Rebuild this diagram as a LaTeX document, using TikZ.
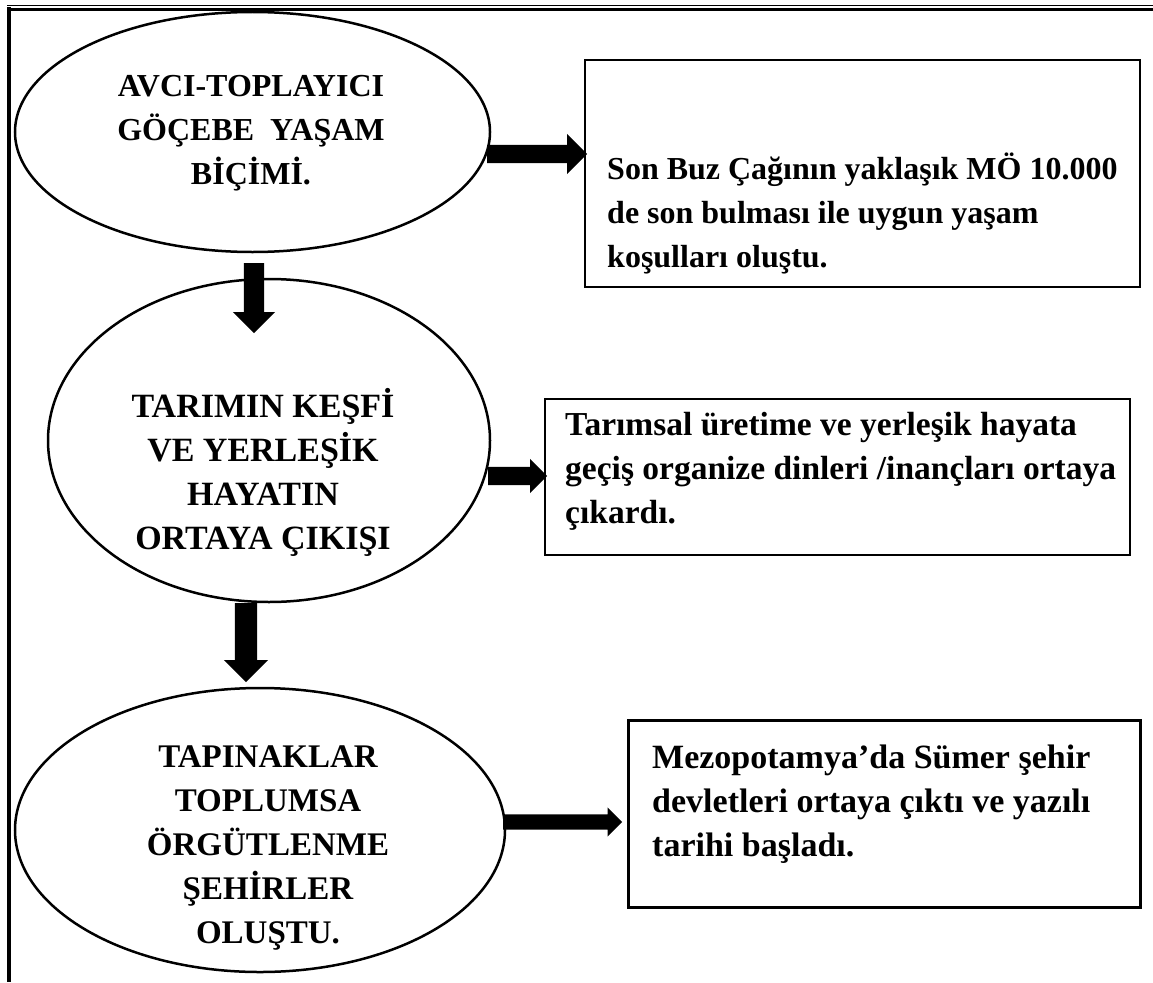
\documentclass[tikz,border=0pt]{standalone}
\usepackage{fontspec}
\setmainfont{Liberation Serif}
\usetikzlibrary{shapes.geometric,shapes.arrows}
\begin{document}
\begin{tikzpicture}[x=1pt,y=-1pt,
  oval/.style={ellipse,draw,line width=2.5pt,inner sep=0pt},
  box/.style={rectangle,draw,line width=2pt,inner sep=0pt},
  lbl/.style={font=\fontsize{#1}{44}\selectfont\bfseries,align=center,inner sep=0pt},
  boxlbl/.style={font=\fontsize{#1}{44}\selectfont\bfseries,align=left,inner sep=0pt,anchor=west},
  blockarrow/.style={single arrow,fill=black,draw=none,inner xsep=0pt,minimum width=0pt,anchor=tail}
]
\useasboundingbox (0,0) rectangle (1153,982);
% page border
\draw[line width=1.5pt] (7,5.5) -- (1153,5.5);
\draw[line width=3pt] (11,9.5) -- (1153,9.5);
\draw[line width=4pt] (9,7) -- (9,982);
% ellipses
\node[oval,minimum width=475pt,minimum height=240pt] (e1) at (252.5,132) {};
\node[oval,minimum width=442pt,minimum height=323pt] (e2) at (269,440.5) {};
\node[oval,minimum width=490pt,minimum height=284pt] (e3) at (260,830) {};
\node[lbl=32] (t1) at (251,133) {AVCI-TOPLAYICI\\GÖÇEBE\ \ YAŞAM\\BİÇİMİ.};
\node[lbl=34] (t2) at (263,472) {TARIMIN KEŞFİ\\VE YERLEŞİK\\HAYATIN\\ORTAYA ÇIKIŞI};
\node[lbl=33] (t3) at (268,848) {TAPINAKLAR\\TOPLUMSA\\ÖRGÜTLENME\\ŞEHİRLER\\OLUŞTU.};
% boxes
\node[box,minimum width=555pt,minimum height=227pt] (b1) at (862.5,173.5) {};
\node[box,minimum width=585pt,minimum height=156pt] (b2) at (837.5,477) {};
\node[box,line width=3pt,minimum width=512pt,minimum height=187pt] (b3) at (884,813.5) {};
\node[boxlbl=32] (bt1) at (607,213) {Son Buz Çağının yaklaşık MÖ 10.000\\de son bulması ile uygun yaşam\\koşulları oluştu.};
\node[boxlbl=33.5] (bt2) at (565,471) {Tarımsal üretime ve yerleşik hayata\\geçiş organize dinleri /inançları ortaya\\çıkardı.};
\node[boxlbl=34] (bt3) at (652,804) {Mezopotamya’da Sümer şehir\\devletleri ortaya çıktı ve yazılı\\tarihi başladı.};
% block arrows
\node[blockarrow,minimum height=100pt,inner ysep=9pt,single arrow head extend=11pt] (a1) at (487,154) {};
\node[blockarrow,rotate=-90,minimum height=70pt,inner ysep=10pt,single arrow head extend=11pt] (a2) at (254,263) {};
\node[blockarrow,rotate=-90,minimum height=79pt,inner ysep=11pt,single arrow head extend=11pt] (a3) at (246,603) {};
\node[blockarrow,minimum height=59pt,inner ysep=9pt,single arrow head extend=8pt] (a4) at (488,476) {};
\node[blockarrow,minimum height=119pt,inner ysep=7.5pt,single arrow head extend=7pt] (a5) at (503,822) {};
\end{tikzpicture}
\end{document}
